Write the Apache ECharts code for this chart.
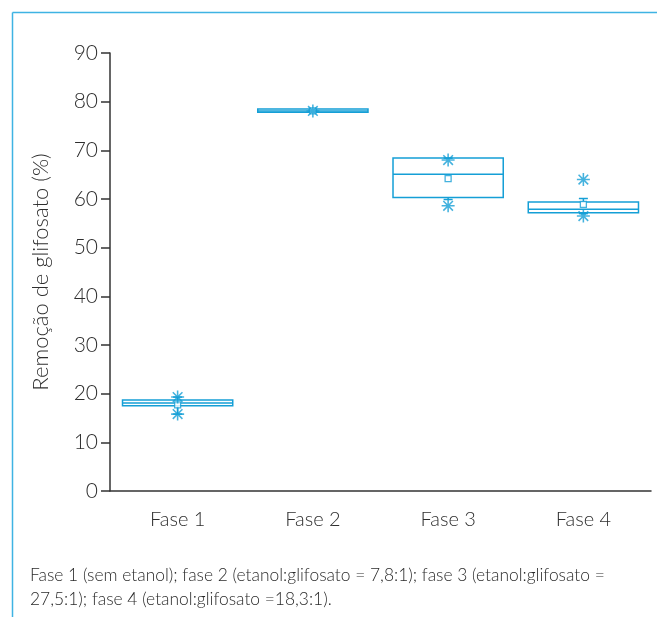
<!DOCTYPE html>
<html>
<head>
<meta charset="utf-8">
<script src="https://cdn.jsdelivr.net/npm/echarts@6/dist/echarts.min.js"></script>
<style>
  html, body { margin: 0; padding: 0; background: #fff; }
  #chart { width: 657px; height: 617px; }
</style>
</head>
<body>
<div id="chart"></div>
<script>
// Glyphosate removal per phase
const categories = ['Fase 1', 'Fase 2', 'Fase 3', 'Fase 4'];
const q1Values     = [17.5, 77.8, 60.3, 57.2];
const medianValues = [18.1, 78.1, 65.1, 57.9];
const q3Values     = [18.7, 78.5, 68.4, 59.4];
const whiskerLow   = [15.8, 77.9, 59.9, 57.0];
const whiskerHigh  = [19.3, 78.3, 68.4, 60.1];
const meanValues   = [17.7, 78.1, 64.2, 58.9];
// extreme observations, marked with asterisks
const extremePoints = [
  [0, 19.3], [0, 15.8],
  [1, 78.1],
  [2, 68.0], [2, 58.6],
  [3, 64.0], [3, 56.5]
];
const yTicks = [0, 10, 20, 30, 40, 50, 60, 70, 80, 90];

const BLUE = '#159fd6';
const TEXT = '#2e2e2e';
const FONT = "'Lato', 'Open Sans', sans-serif";

const boxData = categories.map((c, i) => [i, q1Values[i], medianValues[i], q3Values[i], whiskerLow[i], whiskerHigh[i]]);
const meanData = meanValues.map((v, i) => [i, v]);

// eight-armed asterisk outline
const STAR = 'path://M4.4 0H5.6V10H4.4Z M0 4.4H10V5.6H0Z ' +
  'M1.72 0.88L9.12 8.28L8.28 9.12L0.88 1.72Z M8.28 0.88L9.12 1.72L1.72 9.12L0.88 8.28Z';

function renderBox(params, api) {
  const i = api.value(0);
  const [cx, yQ1] = api.coord([i, api.value(1)]);
  const yMed = api.coord([i, api.value(2)])[1];
  const yQ3 = api.coord([i, api.value(3)])[1];
  const yLo = api.coord([i, api.value(4)])[1];
  const yHi = api.coord([i, api.value(5)])[1];
  const bw = api.size([1, 0])[0] * 0.815;
  const cap = 9;
  const ls = { stroke: BLUE, lineWidth: 1.5, fill: 'none' };
  const line = (x1, y1, x2, y2) => ({ type: 'line', shape: { x1, y1, x2, y2 }, style: ls });
  return {
    type: 'group',
    children: [
      line(cx, yQ3, cx, yHi),
      line(cx - cap / 2, yHi, cx + cap / 2, yHi),
      line(cx, yQ1, cx, yLo),
      line(cx - cap / 2, yLo, cx + cap / 2, yLo),
      { type: 'rect', shape: { x: cx - bw / 2, y: yQ3, width: bw, height: yQ1 - yQ3 }, style: ls },
      line(cx - bw / 2, yMed, cx + bw / 2, yMed)
    ]
  };
}

const chart = echarts.init(document.getElementById('chart'), null, { renderer: 'canvas' });
chart.setOption({
  animation: false,
  backgroundColor: '#fff',
  grid: { left: 110, right: 6, top: 53, bottom: 126, containLabel: false },
  xAxis: {
    type: 'category',
    data: categories,
    boundaryGap: true,
    axisLine: { lineStyle: { color: '#333', width: 1.5 } },
    axisTick: { alignWithLabel: true, length: 8, lineStyle: { color: '#333', width: 1.5 } },
    axisLabel: { color: TEXT, fontSize: 20, fontFamily: FONT, fontWeight: 300, margin: 19 },
    splitLine: { show: false }
  },
  yAxis: {
    type: 'value',
    min: yTicks[0],
    max: yTicks[yTicks.length - 1],
    interval: 10,
    name: 'Remoção de glifosato (%)',
    nameLocation: 'middle',
    nameGap: 58,
    nameTextStyle: { color: TEXT, fontSize: 22, fontFamily: FONT, fontWeight: 300 },
    axisLine: { show: true, lineStyle: { color: '#333', width: 1.5 } },
    axisTick: { show: true, length: 9, lineStyle: { color: '#333', width: 1.5 } },
    axisLabel: { color: TEXT, fontSize: 21, fontFamily: FONT, fontWeight: 300, margin: 12 },
    splitLine: { show: false }
  },
  series: [
    {
      type: 'custom',
      renderItem: renderBox,
      data: boxData,
      encode: { x: 0, y: [1, 2, 3, 4, 5] },
      z: 2
    },
    {
      type: 'scatter',
      data: meanData,
      symbol: 'rect',
      symbolSize: 6,
      itemStyle: { color: '#fff', borderColor: BLUE, borderWidth: 1.3 },
      z: 3
    },
    {
      type: 'scatter',
      data: extremePoints,
      symbol: STAR,
      symbolSize: 13,
      itemStyle: { color: BLUE },
      z: 4
    }
  ],
  graphic: [
    // frame lines on the top and left edges
    { type: 'line', shape: { x1: 12.5, y1: 12.5, x2: 657, y2: 12.5 }, style: { stroke: '#3fb3e3', lineWidth: 1.5 }, silent: true },
    { type: 'line', shape: { x1: 12.5, y1: 12.5, x2: 12.5, y2: 617 }, style: { stroke: '#3fb3e3', lineWidth: 1.5 }, silent: true },
    {
      type: 'text',
      left: 30,
      top: 564,
      style: {
        text: 'Fase 1 (sem etanol); fase 2 (etanol:glifosato = 7,8:1); fase 3 (etanol:glifosato =\n27,5:1); fase 4 (etanol:glifosato =18,3:1).',
        fill: '#2a2a2a',
        font: "300 17.4px 'Lato', 'Open Sans', sans-serif",
        lineHeight: 23.5
      }
    }
  ]
});
</script>
</body>
</html>
